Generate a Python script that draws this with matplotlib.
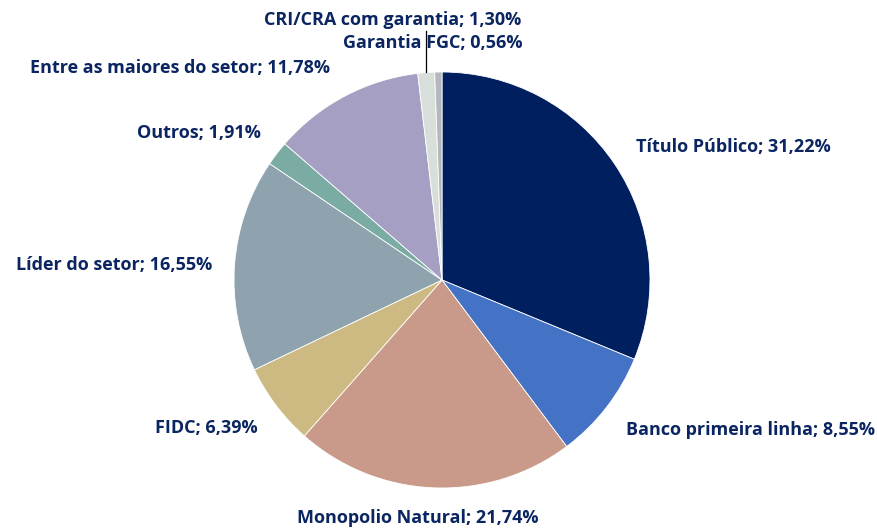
import matplotlib.pyplot as plt

categories = ["Título Público", "Banco primeira linha", "Monopolio Natural", "FIDC",
              "Líder do setor", "Outros", "Entre as maiores do setor",
              "CRI/CRA com garantia", "Garantia FGC"]
values = [31.22, 8.55, 21.74, 6.39, 16.55, 1.91, 11.78, 1.30, 0.56]
colors = ["#001F5F", "#4472C4", "#C99A8A", "#CCBA82", "#8EA3AD",
          "#7AACA4", "#A59FC3", "#D8DFDB", "#B4B8BC"]

# label anchors in pixel coords (x, y from top), alignment
label_pos = [(636, 147, "left"), (875, 430, "right"), (418, 518, "center"),
             (258, 428, "right"), (212, 265, "right"), (261, 133, "right"),
             (330, 68, "right"), (393, 20, "center"), (433, 43, "center")]

W, H = 878, 531
fig = plt.figure(figsize=(W / 100, H / 100), dpi=100)
ax = fig.add_axes([0, 0, 1, 1])

cx, cy, r = 442, H - 280, 208
ax.pie(values, colors=colors, startangle=90, counterclock=False,
       center=(cx, cy), radius=r, frame=True,
       wedgeprops=dict(edgecolor="white", linewidth=0.6))
ax.set_xlim(0, W)
ax.set_ylim(0, H)
ax.set_aspect("equal")
ax.axis("off")

for cat, val, (x, y, ha) in zip(categories, values, label_pos):
    txt = f"{cat}; {val:.2f}%".replace(".", ",")
    ax.text(x, H - y, txt, ha=ha, va="center", fontsize=13,
            fontfamily="Open Sans", fontweight="bold", color="#0B2561")

# leader line for CRI/CRA
ax.plot([426, 426], [H - 31, H - 72], color="black", linewidth=0.9)

fig.savefig("out.png", dpi=100)
